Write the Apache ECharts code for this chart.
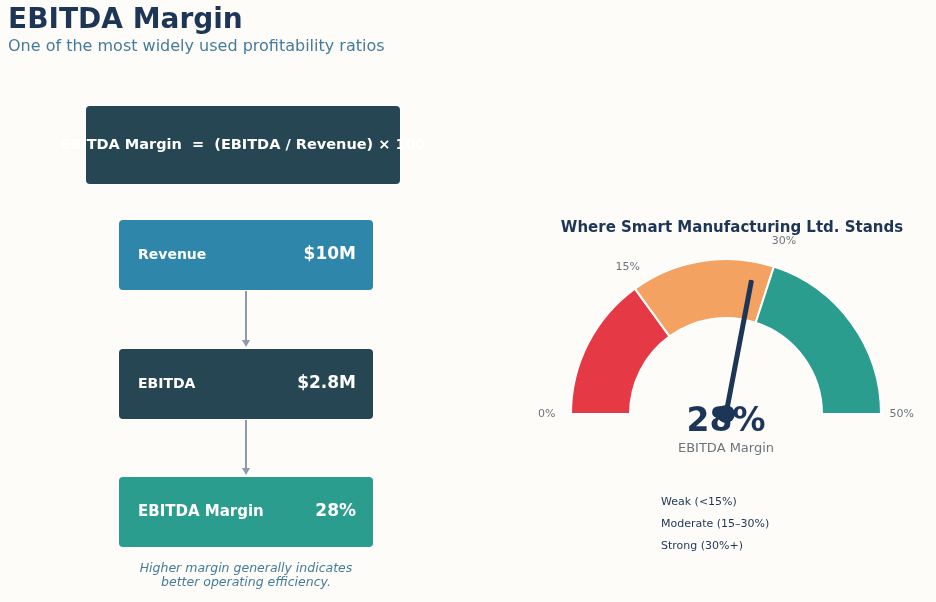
<!DOCTYPE html>
<html>
<head>
<meta charset="utf-8">
<script src="https://cdn.jsdelivr.net/npm/echarts@6/dist/echarts.min.js"></script>
<style>
html,body{margin:0;padding:0;background:#fdfcf8;}
#chart{width:936px;height:602px;}
</style>
</head>
<body>
<div id="chart"></div>
<script>
// ---- data ----
const stepLabels = ['Revenue', 'EBITDA', 'EBITDA Margin'];
const stepValues = ['$10M', '$2.8M', '28%'];
const marginValue = 28;
const bandNames = ['Weak (<15%)', 'Moderate (15–30%)', 'Strong (30%+)'];
const bandEdges = [0, 15, 30, 50];
const tickValues = [0, 15, 30, 50];
const formulaText = 'EBITDA Margin  =  (EBITDA / Revenue) × 100';

// ---- styles ----
const FONT = 'DejaVu Sans';
const bandColors = ['#e63946', '#f4a261', '#2a9d8f'];
const boxColors = ['#2e86ab', '#264653', '#2a9d8f'];
const labelSizes = [14, 14, 15];

const chart = echarts.init(document.getElementById('chart'));

const gMin = bandEdges[0], gMax = bandEdges[bandEdges.length - 1];
const pieData = [];
for (let i = 0; i < bandNames.length; i++) {
  pieData.push({
    name: bandNames[i],
    value: bandEdges[i + 1] - bandEdges[i],
    itemStyle: { color: bandColors[i] }
  });
}
pieData.push({
  name: '_hidden', value: gMax - gMin,
  itemStyle: { color: 'rgba(0,0,0,0)', borderWidth: 0 },
  label: { show: false }, tooltip: { show: false }
});

const graphics = [];
// title
graphics.push({ type: 'text', style: { x: 8, y: 21, text: 'EBITDA Margin', font: 'bold 28px ' + FONT, fill: '#1d3557', verticalAlign: 'middle' } });
graphics.push({ type: 'text', style: { x: 8, y: 47, text: 'One of the most widely used profitability ratios', font: '16px ' + FONT, fill: '#457b9d', verticalAlign: 'middle' } });
// formula box
graphics.push({ type: 'rect', shape: { x: 86, y: 106, width: 314, height: 78, r: 4 }, style: { fill: '#264653' } });
graphics.push({ type: 'text', style: { x: 243, y: 145, text: formulaText, font: 'bold 14.5px ' + FONT, fill: '#ffffff', align: 'center', verticalAlign: 'middle' } });
// step boxes
const boxTops = [220, 349, 477];
for (let i = 0; i < stepLabels.length; i++) {
  const t = boxTops[i];
  graphics.push({ type: 'rect', shape: { x: 119, y: t, width: 254, height: 70, r: 4 }, style: { fill: boxColors[i] } });
  graphics.push({ type: 'text', style: { x: 138, y: t + 35, text: stepLabels[i], font: 'bold ' + labelSizes[i] + 'px ' + FONT, fill: '#ffffff', verticalAlign: 'middle' } });
  graphics.push({ type: 'text', style: { x: 356, y: t + 35, text: stepValues[i], font: 'bold 17px ' + FONT, fill: '#ffffff', align: 'right', verticalAlign: 'middle' } });
  if (i < stepLabels.length - 1) {
    const y0 = t + 71, y1 = boxTops[i + 1] - 2;
    graphics.push({ type: 'line', shape: { x1: 246, y1: y0, x2: 246, y2: y1 - 6 }, style: { stroke: '#8d99ae', lineWidth: 2 } });
    graphics.push({ type: 'polygon', shape: { points: [[242, y1 - 7], [250, y1 - 7], [246, y1]] }, style: { fill: '#8d99ae' } });
  }
}
// caption
graphics.push({ type: 'text', style: { x: 246, y: 569, text: 'Higher margin generally indicates', font: 'italic 12.5px ' + FONT, fill: '#457b9d', align: 'center', verticalAlign: 'middle' } });
graphics.push({ type: 'text', style: { x: 246, y: 583, text: 'better operating efficiency.', font: 'italic 12.5px ' + FONT, fill: '#457b9d', align: 'center', verticalAlign: 'middle' } });
// gauge title
graphics.push({ type: 'text', style: { x: 732, y: 228, text: 'Where Smart Manufacturing Ltd. Stands', font: 'bold 15px ' + FONT, fill: '#1d3557', align: 'center', verticalAlign: 'middle' } });
graphics.push({ type: 'text', style: { x: 726, y: 449, text: 'EBITDA Margin', font: '13px ' + FONT, fill: '#6c757d', align: 'center', verticalAlign: 'middle' } });

const option = {
  backgroundColor: '#fdfcf8',
  animation: false,
  textStyle: { fontFamily: FONT },
  legend: {
    data: bandNames,
    orient: 'vertical',
    left: 650,
    top: 490,
    itemWidth: 0,
    itemHeight: 0,
    itemGap: 8,
    selectedMode: false,
    textStyle: { fontFamily: FONT, fontSize: 11, color: '#1d3557', lineHeight: 14 }
  },
  graphic: { elements: graphics },
  series: [
    {
      type: 'pie',
      center: [726, 414],
      radius: [96, 155],
      startAngle: 180,
      clockwise: true,
      silent: true,
      label: { show: false },
      labelLine: { show: false },
      itemStyle: { borderColor: '#ffffff', borderWidth: 2 },
      emphasis: { disabled: true },
      data: pieData,
      z: 1
    },
    {
      type: 'gauge',
      center: [726, 414],
      radius: 155,
      startAngle: 180,
      endAngle: 0,
      min: gMin,
      max: gMax,
      splitNumber: 10,
      axisLine: { show: false, lineStyle: { width: 0 } },
      axisTick: { show: false },
      splitLine: { show: false },
      axisLabel: {
        show: true,
        distance: -53,
        color: '#6c757d',
        fontSize: 11,
        fontFamily: FONT,
        align: 'center',
        verticalAlign: 'middle',
        formatter: function (v) { return tickValues.indexOf(Math.round(v)) >= 0 ? Math.round(v) + '%' : ''; }
      },
      pointer: {
        show: true,
        icon: 'roundRect',
        length: '88%',
        width: 5,
        offsetCenter: [0, 0],
        itemStyle: { color: '#1d3557' }
      },
      anchor: {
        show: true,
        showAbove: true,
        size: 18,
        icon: 'circle',
        itemStyle: { color: '#1d3557' }
      },
      title: { show: false },
      detail: {
        show: true,
        offsetCenter: [0, 8],
        fontSize: 33,
        fontWeight: 'bold',
        fontFamily: FONT,
        color: '#1d3557',
        formatter: '{value}%'
      },
      data: [{ value: marginValue }],
      z: 3
    }
  ]
};
chart.setOption(option);
</script>
</body>
</html>
